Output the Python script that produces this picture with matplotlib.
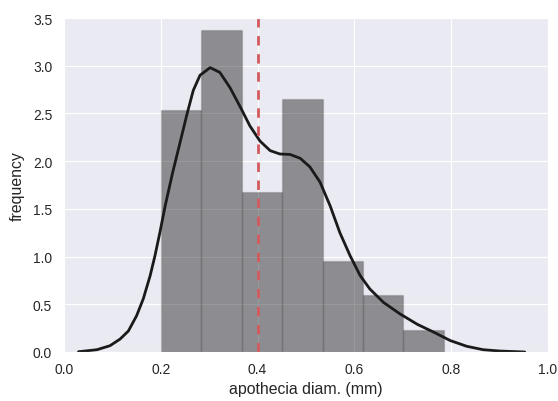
import numpy as np
import matplotlib
matplotlib.use("Agg")
import matplotlib.pyplot as plt
import seaborn as sns

# histogram (density)
bin_edges = [0.2, 0.2836, 0.3671, 0.4507, 0.5343, 0.6179, 0.7014, 0.785]
bin_heights = [2.54, 3.37, 1.68, 2.65, 0.95, 0.60, 0.234]

# kde curve points
kde_x = [0.030, 0.068, 0.095, 0.116, 0.133, 0.150, 0.164, 0.178, 0.188, 0.198,
         0.209, 0.224, 0.240, 0.254, 0.267, 0.281, 0.302, 0.322, 0.343, 0.364,
         0.384, 0.405, 0.426, 0.446, 0.467, 0.488, 0.508, 0.529, 0.550, 0.570,
         0.591, 0.612, 0.632, 0.660, 0.694, 0.730, 0.763, 0.798, 0.832, 0.866,
         0.901, 0.952]
kde_y = [0.003, 0.024, 0.066, 0.136, 0.22, 0.38, 0.56, 0.80, 1.01, 1.25,
         1.53, 1.87, 2.20, 2.49, 2.74, 2.90, 2.98, 2.93, 2.77, 2.57,
         2.37, 2.21, 2.11, 2.075, 2.07, 2.03, 1.94, 1.78, 1.53, 1.25,
         1.01, 0.80, 0.66, 0.52, 0.40, 0.29, 0.21, 0.12, 0.06, 0.024,
         0.01, 0.0]

mean_diam = 0.4

sns.set_style("darkgrid")
plt.rcParams['font.family'] = ['Liberation Sans', 'DejaVu Sans']
plt.rcParams['text.color'] = '.15'
plt.rcParams['axes.labelcolor'] = '.15'
plt.rcParams['xtick.color'] = '.15'
plt.rcParams['ytick.color'] = '.15'

fig = plt.figure(figsize=(5.58, 4.02), dpi=100)
ax = fig.add_axes([64/558, 1-353/402, 484/558, 334/402])

edges = np.array(bin_edges)
ax.bar(edges[:-1], bin_heights, width=np.diff(edges), align='edge',
       facecolor=(0, 0, 0, 0.4), edgecolor=(0, 0, 0, 0.12), linewidth=1)
ax.plot(kde_x, kde_y, color='#1a1a1a', lw=2, solid_capstyle='round')
ax.axvline(mean_diam, color='#D25A5F', ls='--', lw=2, dashes=(3.4, 3.1))

ax.set_xlim(0, 1)
ax.set_ylim(0, 3.5)
ax.set_xticks(np.arange(0, 1.01, 0.2))
ax.set_yticks(np.arange(0, 3.51, 0.5))
ax.tick_params(labelsize=10, length=0)
ax.tick_params(axis='x', pad=7)
ax.tick_params(axis='y', pad=8.5)
ax.set_xlabel('apothecia diam. (mm)', fontsize=11.4, labelpad=4)
ax.set_ylabel('frequency', fontsize=11.4, labelpad=6)

fig.savefig('out.png', dpi=100)
